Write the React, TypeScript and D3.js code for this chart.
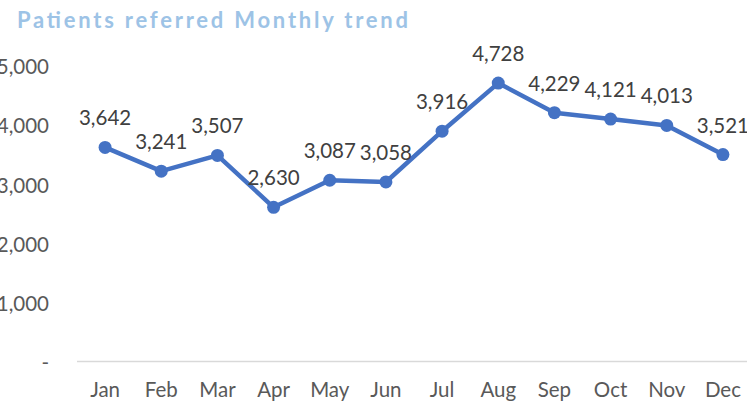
import React from "react";
import * as d3 from "d3";

const months = ["Jan", "Feb", "Mar", "Apr", "May", "Jun", "Jul", "Aug", "Sep", "Oct", "Nov", "Dec"];
const referrals = [3642, 3241, 3507, 2630, 3087, 3058, 3916, 4728, 4229, 4121, 4013, 3521];
const yTicks = [0, 1000, 2000, 3000, 4000, 5000];
const title = "Patients referred Monthly trend";

const W = 747;
const H = 405;
const margin = { left: 77, right: -4, top: 67, bottom: 42 };

export default function App() {
  const x = d3
    .scaleBand<string>()
    .domain(months)
    .range([margin.left, W - margin.right])
    .paddingInner(0)
    .paddingOuter(0);
  const y = d3.scaleLinear().domain([0, 5000]).range([H - margin.bottom, margin.top]);
  const cx = (m: string) => (x(m) as number) + x.bandwidth() / 2;
  const line = d3
    .line<number>()
    .x((_, i) => cx(months[i]))
    .y((d) => y(d));
  const fmt = d3.format(",");
  const font = "Lato, 'Open Sans', sans-serif";

  return (
    <svg
      width={W}
      height={H}
      style={{ position: "absolute", left: 0, top: 0, background: "#fff" }}
      fontFamily={font}
    >
      <text
        x={17}
        y={28}
        fontSize={22}
        fontWeight={700}
        fill="#9DC3E6"
        textLength={391}
        lengthAdjust="spacing"
      >
        {title}
      </text>
      {yTicks.map((t) => (
        <text
          key={t}
          x={49}
          y={y(t)}
          dy="0.35em"
          textAnchor="end"
          fontSize={20.5}
          fill="#595959"
        >
          {t === 0 ? "-" : fmt(t)}
        </text>
      ))}
      <line
        x1={margin.left}
        x2={W}
        y1={y(0) - 1.5}
        y2={y(0) - 1.5}
        stroke="#D9D9D9"
        strokeWidth={1.5}
      />
      {months.map((m) => (
        <text
          key={m}
          x={cx(m)}
          y={397}
          textAnchor="middle"
          fontSize={20.5}
          fill="#595959"
        >
          {m}
        </text>
      ))}
      <path
        d={line(referrals) || ""}
        fill="none"
        stroke="#4472C4"
        strokeWidth={4.5}
        strokeLinejoin="round"
      />
      {referrals.map((v, i) => (
        <circle key={i} cx={cx(months[i])} cy={y(v)} r={6.5} fill="#4472C4" />
      ))}
      {referrals.map((v, i) => (
        <text
          key={"l" + i}
          x={cx(months[i])}
          y={y(v) - 22}
          textAnchor="middle"
          fontSize={20.5}
          fill="#404040"
        >
          {fmt(v)}
        </text>
      ))}
    </svg>
  );
}
